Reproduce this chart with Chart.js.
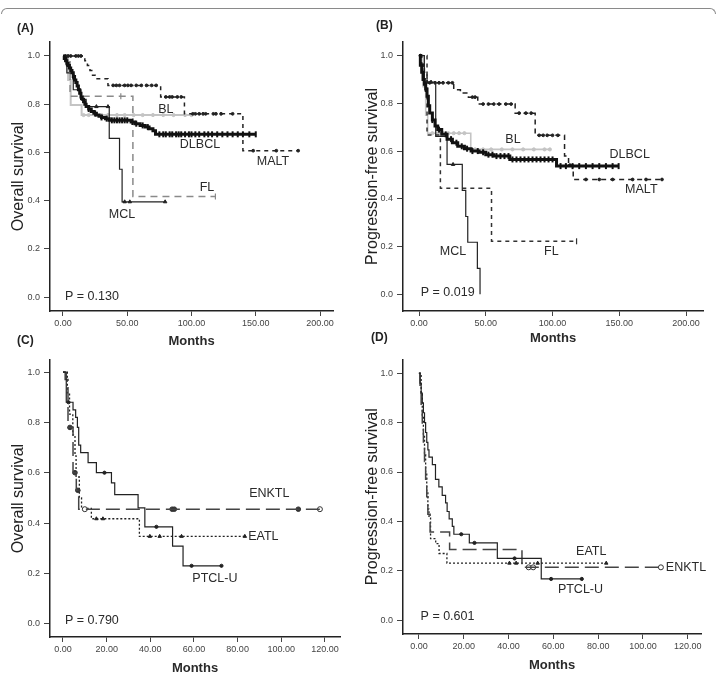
<!DOCTYPE html>
<html>
<head>
<meta charset="utf-8">
<script src="https://cdn.jsdelivr.net/npm/chart.js@4.4.0/dist/chart.umd.min.js"></script>
<style>
  body { margin:0; background:#fff; }
  #wrap { position:relative; width:717px; height:676px; overflow:hidden; font-family:"Liberation Sans", Arial, sans-serif; }
  canvas { position:absolute; }
  .tag { position:absolute; font-weight:bold; font-size:12px; color:#222; }
  #frame { position:absolute; left:1px; top:8px; width:713px; height:5px; border:1px solid #8a8a8a; border-bottom:none; border-radius:6px 6px 0 0; }
</style>
</head>
<body>
<div id="wrap">
  <div id="frame"></div>
  <canvas id="chartA" width="358" height="350" style="left:0;top:0"></canvas>
  <canvas id="chartB" width="359" height="350" style="left:358px;top:0"></canvas>
  <canvas id="chartC" width="358" height="326" style="left:0;top:350px"></canvas>
  <canvas id="chartD" width="359" height="326" style="left:358px;top:350px"></canvas>
  <div class="tag" style="left:17px;top:21px">(A)</div>
  <div class="tag" style="left:376px;top:18px">(B)</div>
  <div class="tag" style="left:17px;top:333px">(C)</div>
  <div class="tag" style="left:371px;top:330px">(D)</div>
</div>
<script>
// ---- tick labels ----
var survTicks = [0, 0.2, 0.4, 0.6, 0.8, 1.0];
var monthTicksAB = [0, 50, 100, 150, 200];
var monthTicksCD = [0, 20, 40, 60, 80, 100, 120];

// ---- (A) overall survival, B-cell ----
var A_DLBCL_t = [0,1,2,3,4,5,6,7,8,9,10,11,12,13,14,15,16,17,18,20,22,24,26,28,30,33,36,53,56,60,64,67,70,72,150];
var A_DLBCL_s = [1,.99,.98,.97,.96,.95,.94,.93,.915,.90,.89,.875,.86,.845,.83,.82,.81,.80,.79,.78,.77,.762,.755,.75,.745,.74,.733,.726,.719,.712,.705,.698,.69,.675,.675];
var A_DLBCL_c = [3,8,14,20,25,30,34,38,40,42,44,46,48,50,54,57,62,66,75,78,80,83,85,88,90,92,95,98,100,103,106,110,113,116,120,124,128,132,136,140,145,150];
var A_MCL_t = [0,3,8,14,18,36,44,46,79.5];
var A_MCL_s = [1,.93,.86,.82,.79,.658,.53,.395,.395];
var A_MCL_c = [26,35,48,52,79.5];
var A_MALT_t = [0,17,19,21,23,25,35,76,94.5,140,183];
var A_MALT_s = [1,.98,.96,.94,.92,.906,.878,.83,.76,.607,.607];
var A_MALT_c = [2,4,6,10,12,14,39,41.5,44,48,50.5,53,57,61,65,69,72.5,80,83,85,89,92,101,103,106,109,111,117,119,123,132,148,166,183];
var A_FL_t = [0,5.5,54.4,118.6];
var A_FL_s = [1,.833,.417,.417];
var A_FL_c = [45,118.6];
var A_BL_t = [0,4,6,14.5,100];
var A_BL_s = [1,.9,.797,.755,.755];
var A_BL_c = [16,20,25,30,35,42,48,55,62,70,78,86,95,100];
var A_text = ['BL','DLBCL','MALT','FL','MCL','P = 0.130'];
var A_text_t = [80,106.6,163.4,112,45.9,1.6];
var A_text_s = [.776,.631,.56,.456,.344,.004];

// ---- (B) progression-free survival, B-cell ----
var B_DLBCL_t = [0,1,2,3,4,5,6,7,8,10,12,14,17,21,25,29,34,39,45,50,56,68,103,149.5];
var B_DLBCL_s = [1,.96,.93,.9,.88,.86,.83,.79,.76,.73,.705,.69,.67,.65,.635,.62,.61,.60,.595,.585,.579,.565,.537,.537];
var B_DLBCL_c = [5,10,15,20,24,28,32,36,40,44,48,52,55,58,61,64,67,70,73,76,79,82,85,88,91,94,97,100,106,110,115,120,125,130,135,140,145,149.5];
var B_MALT_t = [0,2,4,6,26,31,37,44,72,87,109,112,115.5,182];
var B_MALT_s = [1,.96,.93,.886,.857,.843,.826,.797,.759,.666,.579,.541,.481,.481];
var B_MALT_c = [1,3,8,12,15,18,22,25,40,42,48,52,56,60,65,69,75,80,84,90,93,96,100,104,113,125,135,145,160,170,182];
var B_FL_t = [0,6,16,54.3,118];
var B_FL_s = [1,.667,.444,.222,.222];
var B_FL_c = [118];
var B_BL_t = [0,3,5,6.5,38.75,98];
var B_BL_s = [1,.87,.75,.675,.607,.607];
var B_BL_c = [10,14,18,22,26,30,34,42,48,54,62,70,78,86,94,98];
var B_MCL_t = [0,4,12.5,21,32.4,35,36.5,43.7,45.7];
var B_MCL_s = [1,.889,.662,.544,.435,.326,.218,.109,0];
var B_MCL_c = [6,9,25.5];
var B_text = ['BL','DLBCL','MALT','FL','MCL','P = 0.019'];
var B_text_t = [70.4,157.8,166.5,99.1,25.5,1.3];
var B_text_s = [.649,.586,.44,.181,.181,.007];

// ---- (C) overall survival, T-cell ----
var C_PTCL_t = [0,1.5,4.6,5.8,6.6,7.2,8.1,11.5,15.3,22.2,23.7,34.4,37.5,50.2,55,72.6];
var C_PTCL_s = [1,.88,.85,.82,.78,.71,.68,.64,.60,.56,.513,.46,.385,.308,.23,.23];
var C_PTCL_c = [2.5,19,42.8,58.9,72.6];
var C_ENKTL_t = [0,1,2.3,4.6,6.1,7.2,117.7];
var C_ENKTL_s = [1,.97,.78,.6,.53,.455,.455];
var C_ENKTL_c = [3.2,5.5,6.8,50,51,107.8];
var C_ENKTL_open = [10,117.7];
var C_EATL_t = [0,2,3,4.5,5.5,6,7.5,8.5,13,35,83.3];
var C_EATL_s = [1,.917,.833,.75,.667,.583,.5,.458,.417,.347,.347];
var C_EATL_c = [15.3,18.3,39.8,44.3,54.3,83.3];
var C_text = ['ENKTL','EATL','PTCL-U','P = 0.790'];
var C_text_t = [94.5,91.8,69.6,0.9];
var C_text_s = [.519,.347,.181,.013];

// ---- (D) progression-free survival, T-cell ----
var D_PTCL_t = [0,0.5,1,1.5,2,2.5,3,3.5,4,4.5,6,7.4,8.9,10.4,11.9,12.6,13.5,14.9,15.6,22.5,35,54.6,72.7];
var D_PTCL_s = [1,.96,.92,.88,.84,.80,.76,.72,.69,.66,.63,.57,.54,.505,.475,.44,.41,.38,.348,.313,.25,.167,.167];
var D_PTCL_c = [18.9,24.8,42.7,59,72.7];
var D_EATL_t = [0,1,1.5,2,2.5,3,3.5,4,4.5,5.2,7.5,9,12.5,83.6];
var D_EATL_s = [1,.92,.83,.75,.67,.6,.52,.45,.42,.33,.31,.27,.231,.231];
var D_EATL_c = [40.4,43.4,53,83.6];
var D_ENKTL_t = [0,0.5,1,1.5,2,2.5,3,3.5,4,5,13.7,46,108];
var D_ENKTL_s = [1,.929,.857,.786,.714,.643,.571,.5,.429,.357,.286,.214,.214];
var D_ENKTL_open = [49,51,108];
var D_text = ['EATL','ENKTL','PTCL-U','P = 0.601'];
var D_text_t = [76.9,119.2,72.1,0.75];
var D_text_s = [.278,.212,.122,.013];

var FONT = '"Liberation Sans", Arial, sans-serif';
Chart.defaults.font.family = FONT;

// value of a step curve at time t
function stepAt(ts, ss, t){
    var v = ss[0];
    for (var i = 0; i < ts.length; i++){ if (ts[i] <= t) v = ss[i]; }
    return v;
}

function curve(ts, ss, color, width, dash){
    return {
        data: ts.map(function(t, i){ return {x: t, y: ss[i]}; }),
        stepped: true, fill: false, pointRadius: 0,
        borderColor: color, borderWidth: width, borderDash: dash || [],
        borderCapStyle: 'butt'
    };
}

function censor(ts, ss, cs, color, style, radius, width, bg){
    return {
        data: cs.map(function(t){ return {x: t, y: stepAt(ts, ss, t)}; }),
        showLine: false, pointStyle: style, pointRadius: radius,
        pointRotation: style === 'line' ? 90 : 0,
        pointBorderColor: color, pointBackgroundColor: bg || color,
        pointBorderWidth: width
    };
}

function texts(names, ts, ss){
    return names.map(function(n, i){
        return {text: n, t: ts[i], s: ss[i], align: n.indexOf('P =') === 0 ? 'left' : 'center'};
    });
}

var kmText = {
    id: 'kmText',
    afterDatasetsDraw: function(chart, args, opts){
        var ctx = chart.ctx, x = chart.scales.x, y = chart.scales.y;
        ctx.save();
        ctx.font = '12.5px ' + FONT;
        ctx.fillStyle = '#2a2a2a';
        ctx.textBaseline = 'middle';
        (opts.items || []).forEach(function(it){
            ctx.textAlign = it.align;
            ctx.fillText(it.text, x.getPixelForValue(it.t), y.getPixelForValue(it.s));
        });
        ctx.restore();
    }
};
Chart.register(kmText);

function kmOptions(c){
    return {
        responsive: false, animation: false,
        layout: {padding: c.pad},
        plugins: {legend: {display: false}, tooltip: {enabled: false}, kmText: {items: c.items}},
        scales: {
            x: {
                type: 'linear', min: c.xmin, max: c.xmax,
                afterBuildTicks: function(s){ s.ticks = c.xticks.map(function(v){ return {value: v}; }); },
                afterFit: function(s){ s.height = c.xh; },
                ticks: {callback: function(v){ return Number(v).toFixed(2); }, font: {size: 9}, color: '#444', padding: 2, maxRotation: 0, autoSkip: false},
                grid: {drawOnChartArea: false, drawTicks: true, tickLength: 5, tickColor: '#444'},
                border: {color: '#222', width: 1.5},
                title: {display: true, text: 'Months', font: {size: 13, weight: 'bold'}, color: '#2a2a2a', padding: {top: 0, bottom: c.xtpad}}
            },
            y: {
                min: c.ymin, max: c.ymax,
                afterBuildTicks: function(s){ s.ticks = survTicks.map(function(v){ return {value: v}; }); },
                afterFit: function(s){ s.width = c.yw; },
                ticks: {callback: function(v){ return Number(v).toFixed(1); }, font: {size: 9}, color: '#444', padding: 4},
                grid: {drawOnChartArea: false, drawTicks: true, tickLength: 6, tickColor: '#444'},
                border: {color: '#222', width: 1.5},
                title: {display: true, text: c.ytitle, font: {size: 16}, color: '#222', padding: {top: c.ytpad, bottom: 0}}
            }
        }
    };
}

function get_panel_a_chart(){
    new Chart('chartA', {
        type: 'line',
        data: {datasets: [
            curve(A_DLBCL_t, A_DLBCL_s, '#111', 3),
            censor(A_DLBCL_t, A_DLBCL_s, A_DLBCL_c, '#111', 'line', 3, 2),
            curve(A_MCL_t, A_MCL_s, '#222', 1.2),
            censor(A_MCL_t, A_MCL_s, A_MCL_c, '#222', 'triangle', 2, 1),
            curve(A_MALT_t, A_MALT_s, '#222', 1.5, [4, 4]),
            censor(A_MALT_t, A_MALT_s, A_MALT_c, '#222', 'circle', 1.4, 1),
            curve(A_FL_t, A_FL_s, '#8a8a8a', 1.5, [7, 5]),
            censor(A_FL_t, A_FL_s, A_FL_c, '#8a8a8a', 'line', 3, 1.2),
            curve(A_BL_t, A_BL_s, '#c4c4c4', 2),
            censor(A_BL_t, A_BL_s, A_BL_c, '#c4c4c4', 'circle', 1.6, 1)
        ]},
        options: kmOptions({pad: {top: 42, right: 25, left: 0, bottom: 0}, xmin: -10.1, xmax: 210.1, ymin: -0.058, ymax: 1.058,
            xticks: monthTicksAB, xh: 39, xtpad: 1.2, yw: 50, ytpad: 9.4, ytitle: 'Overall survival',
            items: texts(A_text, A_text_t, A_text_s)})
    });
}//get_panel_a_chart

function get_panel_b_chart(){
    new Chart('chartB', {
        type: 'line',
        data: {datasets: [
            curve(B_DLBCL_t, B_DLBCL_s, '#111', 3),
            censor(B_DLBCL_t, B_DLBCL_s, B_DLBCL_c, '#111', 'line', 3, 2),
            curve(B_MCL_t, B_MCL_s, '#222', 1.2),
            censor(B_MCL_t, B_MCL_s, B_MCL_c, '#222', 'triangle', 2, 1),
            curve(B_MALT_t, B_MALT_s, '#222', 1.5, [5, 4]),
            censor(B_MALT_t, B_MALT_s, B_MALT_c, '#222', 'circle', 1.4, 1),
            curve(B_FL_t, B_FL_s, '#333', 1.5, [4, 4]),
            censor(B_FL_t, B_FL_s, B_FL_c, '#333', 'line', 3, 1.2),
            curve(B_BL_t, B_BL_s, '#c4c4c4', 1.6),
            censor(B_BL_t, B_BL_s, B_BL_c, '#c4c4c4', 'circle', 1.6, 1)
        ]},
        options: kmOptions({pad: {top: 42, right: 14, left: 0, bottom: 0}, xmin: -12, xmax: 212.7, ymin: -0.07, ymax: 1.057,
            xticks: monthTicksAB, xh: 39, xtpad: 4.2, yw: 45, ytpad: 5.4, ytitle: 'Progression-free survival',
            items: texts(B_text, B_text_t, B_text_s)})
    });
}//get_panel_b_chart

function get_panel_c_chart(){
    new Chart('chartC', {
        type: 'line',
        data: {datasets: [
            curve(C_PTCL_t, C_PTCL_s, '#222', 1.2),
            censor(C_PTCL_t, C_PTCL_s, C_PTCL_c, '#222', 'circle', 1.6, 1),
            curve(C_ENKTL_t, C_ENKTL_s, '#444', 1.5, [14, 6]),
            censor(C_ENKTL_t, C_ENKTL_s, C_ENKTL_c, '#333', 'circle', 2.3, 1),
            censor(C_ENKTL_t, C_ENKTL_s, C_ENKTL_open, '#333', 'circle', 2.5, 1, '#fff'),
            curve(C_EATL_t, C_EATL_s, '#222', 1.3, [2, 2]),
            censor(C_EATL_t, C_EATL_s, C_EATL_c, '#222', 'triangle', 2, 1)
        ]},
        options: kmOptions({pad: {top: 10, right: 18, left: 0, bottom: 0}, xmin: -5.95, xmax: 126.9, ymin: -0.053, ymax: 1.048,
            xticks: monthTicksCD, xh: 39, xtpad: 0.2, yw: 50, ytpad: 9.4, ytitle: 'Overall survival',
            items: texts(C_text, C_text_t, C_text_s)})
    });
}//get_panel_c_chart

function get_panel_d_chart(){
    new Chart('chartD', {
        type: 'line',
        data: {datasets: [
            curve(D_PTCL_t, D_PTCL_s, '#222', 1.2),
            censor(D_PTCL_t, D_PTCL_s, D_PTCL_c, '#222', 'circle', 1.6, 1),
            curve(D_ENKTL_t, D_ENKTL_s, '#444', 1.5, [14, 6]),
            censor(D_ENKTL_t, D_ENKTL_s, D_ENKTL_open, '#333', 'circle', 2.5, 1, '#fff'),
            curve(D_EATL_t, D_EATL_s, '#222', 1.3, [2, 2]),
            censor(D_EATL_t, D_EATL_s, D_EATL_c, '#222', 'triangle', 2, 1)
        ]},
        options: kmOptions({pad: {top: 4, right: 16, left: 0, bottom: 0}, xmin: -7.1, xmax: 125.9, ymin: -0.056, ymax: 1.056,
            xticks: monthTicksCD, xh: 42, xtpad: 3.2, yw: 45, ytpad: 5.4, ytitle: 'Progression-free survival',
            items: texts(D_text, D_text_t, D_text_s)})
    });
}//get_panel_d_chart

get_panel_a_chart();
get_panel_b_chart();
get_panel_c_chart();
get_panel_d_chart();
</script>
</body>
</html>
